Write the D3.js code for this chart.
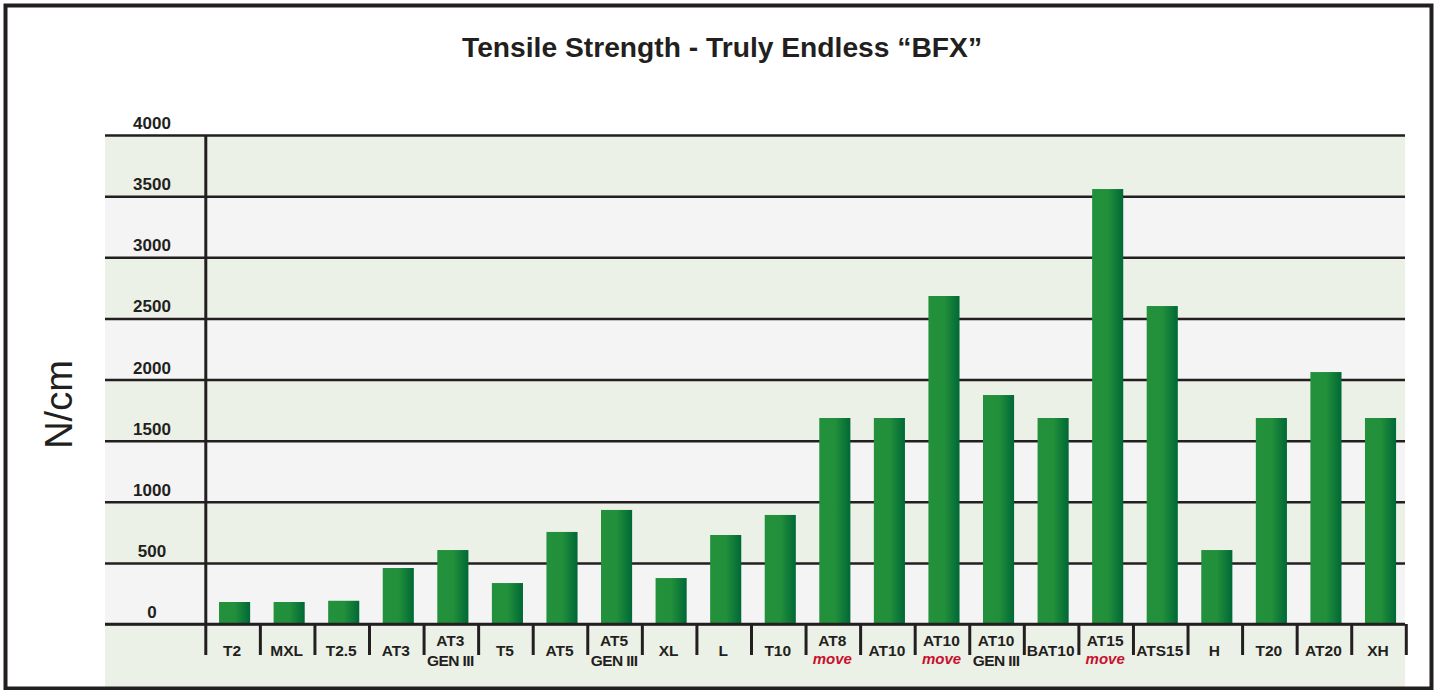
<!DOCTYPE html>
<html>
<head>
<meta charset="utf-8">
<script src="https://cdn.jsdelivr.net/npm/d3@7"></script>
<style>
  html, body { margin: 0; padding: 0; background: #ffffff; }
  svg { display: block; font-family: "Liberation Sans", Arial, Helvetica, sans-serif; }
</style>
</head>
<body>
<svg id="chart" width="1437" height="690"></svg>
<script>
// ---- data ----
const categories = ["T2","MXL","T2.5","AT3","AT3\nGEN III","T5","AT5","AT5\nGEN III","XL","L","T10",
  "AT8\nmove","AT10","AT10\nmove","AT10\nGEN III","BAT10","AT15\nmove","ATS15","H","T20","AT20","XH"];
const values = [180,180,190,458,605,335,753,933,376,728,892,
  1685,1685,2683,1873,1685,3558,2601,605,1685,2061,1685];
const yTicks = [0,500,1000,1500,2000,2500,3000,3500,4000];
const titleText = "Tensile Strength - Truly Endless \u201CBFX\u201D";
const yAxisTitle = "N/cm";

// ---- layout ----
const svg = d3.select("#chart");
const ink = "#231f20";
const plotLeft = 105, plotRight = 1405;
const axisX0 = 205.8, axisX1 = 1406.3;
const y = d3.scaleLinear().domain([0, 4000]).range([624, 135]);
const xCat = d3.scaleBand().domain(categories).range([axisX0, axisX1]).padding(0);
const xBar = d3.scaleBand().domain(categories).range([axisX0, axisX1]).paddingInner(0.43).paddingOuter(0.215);

// gradient
const defs = svg.append("defs");
const grad = defs.append("linearGradient").attr("id", "barGrad").attr("x1", "0").attr("x2", "1").attr("y1", "0").attr("y2", "0");
grad.append("stop").attr("offset", "0%").attr("stop-color", "#23913b");
grad.append("stop").attr("offset", "50%").attr("stop-color", "#22903b");
grad.append("stop").attr("offset", "100%").attr("stop-color", "#006836");

// bands
const bandPairs = d3.pairs(yTicks);
svg.append("g").selectAll("rect").data(bandPairs).join("rect")
  .attr("x", plotLeft).attr("width", plotRight - plotLeft)
  .attr("y", d => y(d[1])).attr("height", d => y(d[0]) - y(d[1]))
  .attr("fill", (d, i) => i % 2 === 1 ? "#ebf1e6" : "#f4f4f4");
svg.append("rect").attr("x", plotLeft).attr("width", plotRight - plotLeft)
  .attr("y", y(0)).attr("height", 688 - y(0)).attr("fill", "#ebf1e6");

// gridlines + y tick labels via axis
const yAxis = d3.axisRight(y).tickValues(yTicks).tickSize(plotRight - plotLeft).tickFormat(d3.format("d"));
const gy = svg.append("g").attr("transform", `translate(${plotLeft},0)`).call(yAxis);
gy.select(".domain").remove();
gy.selectAll(".tick line").attr("stroke", ink).attr("stroke-width", 2.5);
gy.selectAll(".tick text")
  .attr("x", 47).attr("dy", -6.5).attr("text-anchor", "middle")
  .attr("font-size", 17).attr("font-weight", "bold").attr("fill", ink)
  .attr("font-family", "'Liberation Sans', Arial, sans-serif");

// bars
svg.append("g").selectAll("rect").data(categories).join("rect")
  .attr("x", d => xBar(d) + 1.5)
  .attr("width", xBar.bandwidth())
  .attr("y", (d, i) => y(values[i]))
  .attr("height", (d, i) => y(0) - y(values[i]))
  .attr("fill", "url(#barGrad)");

// redraw axis line at zero over bar bottoms
svg.append("line").attr("x1", plotLeft).attr("x2", plotRight).attr("y1", y(0)).attr("y2", y(0))
  .attr("stroke", ink).attr("stroke-width", 2.5);

// y axis vertical line
svg.append("line").attr("x1", axisX0).attr("x2", axisX0).attr("y1", y(4000)).attr("y2", 655)
  .attr("stroke", ink).attr("stroke-width", 3);

// category dividers
const dividers = categories.map(c => xCat(c)).slice(1).concat([axisX1]);
svg.append("g").selectAll("line").data(dividers).join("line")
  .attr("x1", d => d).attr("x2", d => d).attr("y1", y(0)).attr("y2", 655)
  .attr("stroke", ink).attr("stroke-width", 3);

// category labels
const lab = svg.append("g").selectAll("text").data(categories).join("text")
  .attr("text-anchor", "middle")
  .attr("font-size", 15.5).attr("font-weight", "bold").attr("fill", ink);
lab.each(function(d) {
  const t = d3.select(this);
  const cx = xCat(d) + xCat.bandwidth() / 2 - 1;
  const parts = d.split("\n");
  if (parts.length === 1) {
    t.append("tspan").attr("x", cx).attr("y", 656).text(parts[0]);
  } else if (parts[1] === "move") {
    t.append("tspan").attr("x", cx).attr("y", 646).text(parts[0]);
    t.append("tspan").attr("x", cx).attr("y", 664).attr("fill", "#c8102e")
      .attr("font-style", "italic").attr("font-size", 15).text(parts[1]);
  } else {
    t.append("tspan").attr("x", cx).attr("y", 646).text(parts[0]);
    t.append("tspan").attr("x", cx).attr("y", 666).attr("letter-spacing", -0.6).text(parts[1]);
  }
});

// title
svg.append("text").attr("x", 722).attr("y", 57).attr("text-anchor", "middle")
  .attr("font-size", 27).attr("font-weight", "bold").attr("fill", ink)
  .attr("textLength", 520).attr("lengthAdjust", "spacingAndGlyphs")
  .text(titleText);

// y axis title
svg.append("text").attr("transform", "translate(72,404.5) rotate(-90)")
  .attr("text-anchor", "middle").attr("font-size", 38).attr("fill", ink)
  .text(yAxisTitle);

// outer frame
svg.append("rect").attr("x", 5.5).attr("y", 5.5).attr("width", 1426).attr("height", 683)
  .attr("fill", "none").attr("stroke", ink).attr("stroke-width", 4);
</script>
</body>
</html>
